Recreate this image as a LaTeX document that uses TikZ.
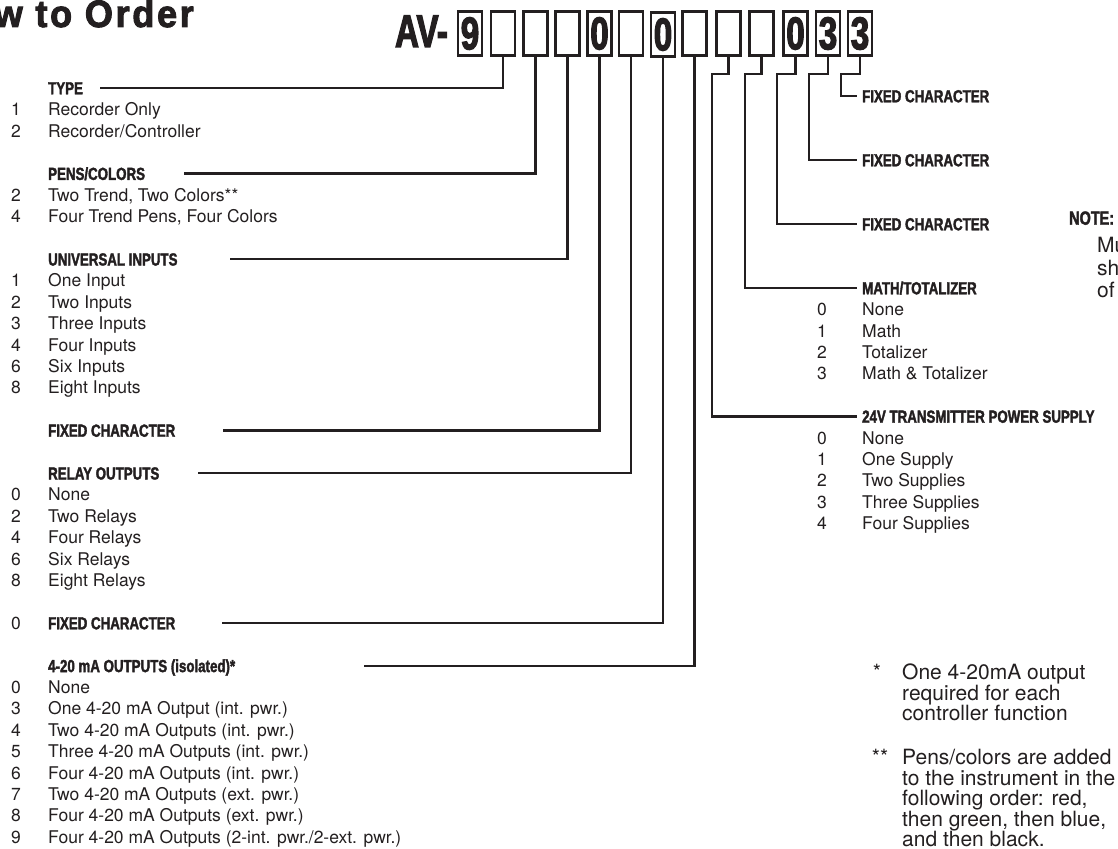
\documentclass[tikz,border=0pt]{standalone}
\usepackage{fontspec}
\setmainfont{TeX Gyre Heros}
\newfontfamily\hdfam[FakeStretch=0.76,FakeBold=2]{Liberation Sans Bold}
\newfontfamily\dgfam[FakeStretch=0.72,FakeBold=2.5]{Liberation Sans Bold}
\newfontfamily\ttlfam[FakeStretch=0.95,LetterSpace=7,FakeBold=2.5]{Liberation Sans Bold}
\newcommand\hdf{\hdfam\fontsize{17.5pt}{19pt}\selectfont}
\newcommand\ntf{\hdfam\fontsize{19pt}{20pt}\selectfont}
\newcommand\itmf{\fontsize{17.5pt}{21.4pt}\selectfont}
\newcommand\ftf{\fontsize{21pt}{20.5pt}\selectfont}
\newcommand\dgf{\dgfam\fontsize{46pt}{46pt}\selectfont}
\newcommand\ttlf{\ttlfam\fontsize{38pt}{38pt}\selectfont}
\definecolor{ink}{RGB}{35,31,32}
\newcommand\itm[4]{\node[nm] (#1n) at (16,#2) {#3}; \node[it] (#1) at (48,#2) {#4};}
\newcommand\ritm[4]{\node[nm] (#1n) at (822,#2) {#3}; \node[it] (#1) at (862,#2) {#4};}
\begin{document}
\begin{tikzpicture}[x=1pt,y=-1pt,
  ln/.style={draw=ink,line width=2.3pt},
  bx/.style={draw=ink,line width=2.5pt,minimum width=24pt,minimum height=44pt,inner sep=0pt,font=\dgf,text=ink},
  hd/.style={anchor=base west,inner sep=0pt,font=\hdf,text=ink},
  it/.style={anchor=base west,inner sep=0pt,font=\itmf,text=ink},
  nm/.style={anchor=base,inner sep=0pt,font=\itmf,text=ink},
  ft/.style={anchor=base west,inner sep=0pt,font=\ftf,text=ink}]
\useasboundingbox (0,0) rectangle (1118,848);
\begin{scope}
\clip (0,0) rectangle (1118,848);
% title
\node[anchor=base east,inner sep=0pt,font=\ttlf,text=ink] (title) at (194,27) {How to Order};
\node[anchor=base east,inner sep=0pt,font=\dgf,text=ink] (av) at (448,47) {AV-};
% boxes
\node[bx] (b1) at (470,33.5) {9};
\node[bx] (b2) at (503,33.5) {};
\node[bx] (b3) at (535.5,33.5) {};
\node[bx] (b4) at (567.5,33.5) {};
\node[bx] (b5) at (599.5,33.5) {0};
\node[bx] (b6) at (631,33.5) {};
\node[bx] (b7) at (663,34.5) {0};
\node[bx] (b8) at (694.5,33.5) {};
\node[bx] (b9) at (728.5,33.5) {};
\node[bx] (b10) at (761.5,33.5) {};
\node[bx] (b11) at (795.5,33.5) {0};
\node[bx] (b12) at (828,33.5) {3};
\node[bx] (b13) at (860,33.5) {3};
% left column
\node[hd] (tp) at (48,94.3) {TYPE};
\itm{t1}{115.7}{1}{Recorder Only}
\itm{t2}{137.1}{2}{Recorder/Controller}
\node[hd] (pc) at (48,179.9) {PENS/COLORS};
\itm{p1}{201.3}{2}{Two Trend, Two Colors**}
\itm{p2}{222.7}{4}{Four Trend Pens, Four Colors}
\node[hd] (ui) at (48,265.5) {UNIVERSAL INPUTS};
\itm{u1}{286.9}{1}{One Input}
\itm{u2}{308.3}{2}{Two Inputs}
\itm{u3}{329.7}{3}{Three Inputs}
\itm{u4}{351.1}{4}{Four Inputs}
\itm{u5}{372.5}{6}{Six Inputs}
\itm{u6}{393.9}{8}{Eight Inputs}
\node[hd] (fa) at (48,436.7) {FIXED CHARACTER};
\node[hd] (ro) at (48,479.5) {RELAY OUTPUTS};
\itm{r1}{500.9}{0}{None}
\itm{r2}{522.3}{2}{Two Relays}
\itm{r3}{543.7}{4}{Four Relays}
\itm{r4}{565.1}{6}{Six Relays}
\itm{r5}{586.5}{8}{Eight Relays}
\node[nm] (fbn) at (16,629.3) {0};
\node[hd] (fb) at (48,629.3) {FIXED CHARACTER};
\node[hd] (mo) at (48,672.1) {4-20 mA OUTPUTS (isolated)*};
\itm{m1}{693.5}{0}{None}
\itm{m2}{714.9}{3}{One 4-20 mA Output (int. pwr.)}
\itm{m3}{736.3}{4}{Two 4-20 mA Outputs (int. pwr.)}
\itm{m4}{757.7}{5}{Three 4-20 mA Outputs (int. pwr.)}
\itm{m5}{779.1}{6}{Four 4-20 mA Outputs (int. pwr.)}
\itm{m6}{800.5}{7}{Two 4-20 mA Outputs (ext. pwr.)}
\itm{m7}{821.9}{8}{Four 4-20 mA Outputs (ext. pwr.)}
\itm{m8}{843.3}{9}{Four 4-20 mA Outputs (2-int. pwr./2-ext. pwr.)}
% right column
\node[hd] (fc) at (862,102.3) {FIXED CHARACTER};
\node[hd] (fd) at (862,166.3) {FIXED CHARACTER};
\node[hd] (fe) at (862,230.3) {FIXED CHARACTER};
\node[hd] (mt) at (862,294.3) {MATH/TOTALIZER};
\ritm{a1}{315.7}{0}{None}
\ritm{a2}{337.1}{1}{Math}
\ritm{a3}{358.5}{2}{Totalizer}
\ritm{a4}{379.9}{3}{Math \& Totalizer}
\node[hd] (tx) at (862,422.7) {24V TRANSMITTER POWER SUPPLY};
\ritm{s1}{444.1}{0}{None}
\ritm{s2}{465.5}{1}{One Supply}
\ritm{s3}{486.9}{2}{Two Supplies}
\ritm{s4}{508.3}{3}{Three Supplies}
\ritm{s5}{529.7}{4}{Four Supplies}
% note
\node[anchor=base west,inner sep=0pt,font=\ntf,text=ink] (nt) at (1069,224.7) {NOTE:};
\node[ft] (nt1) at (1097,252.5) {Mu};
\node[ft] (nt2) at (1097,275.5) {sh};
\node[ft] (nt3) at (1097,297.5) {of};
% footnotes
\node[anchor=base,inner sep=0pt,font=\ftf,text=ink] (st1) at (877,679.5) {*};
\node[ft] (f1) at (902,679.5) {One 4-20mA output};
\node[ft] (f2) at (902,700) {required for each};
\node[ft] (f3) at (902,720.5) {controller function};
\node[anchor=base,inner sep=0pt,font=\ftf,text=ink] (st2) at (880,764.5) {**};
\node[ft] (g1) at (902,764.5) {Pens/colors are added};
\node[ft] (g2) at (902,785) {to the instrument in the};
\node[ft] (g3) at (902,805.5) {following order: red,};
\node[ft] (g4) at (902,826) {then green, then blue,};
\node[ft] (g5) at (902,846.5) {and then black.};
% connector ends
\coordinate (tpL) at (100,88);
\coordinate (pcL) at (184,173.6);
\coordinate (uiL) at (230,259.2);
\coordinate (faL) at (223,430.4);
\coordinate (roL) at (198,473.2);
\coordinate (fbL) at (222,623);
\coordinate (moL) at (364,665.8);
\coordinate (fcR) at (857,96);
\coordinate (fdR) at (857,160);
\coordinate (feR) at (857,224);
\coordinate (mtR) at (857,288);
\coordinate (txR) at (857,416.4);
\coordinate (j13) at (841,74);
\coordinate (j12) at (809,74);
\coordinate (j11) at (777,74);
\coordinate (j10) at (745,74);
\coordinate (j9) at (712,74);
% connectors
\draw[ln] (b2.south) |- (tpL);
\draw[ln] (b3.south) |- (pcL);
\draw[ln] (b4.south) |- (uiL);
\draw[ln] (b5.south) |- (faL);
\draw[ln] (b6.south) |- (roL);
\draw[ln] (b7.south) |- (fbL);
\draw[ln] (b8.south) |- (moL);
\draw[ln] (b13.south) |- (j13) |- (fcR);
\draw[ln] (b12.south) |- (j12) |- (fdR);
\draw[ln] (b11.south) |- (j11) |- (feR);
\draw[ln] (b10.south) |- (j10) |- (mtR);
\draw[ln] (b9.south) |- (j9) |- (txR);
\end{scope}
\end{tikzpicture}
\end{document}
